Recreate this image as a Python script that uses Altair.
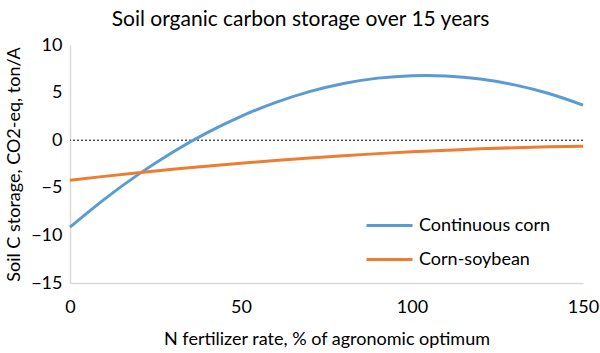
import altair as alt
import pandas as pd

x_vals = [0, 10, 20, 30, 40, 50, 60, 70, 80, 90, 100, 110, 120, 130, 140, 150]
continuous_corn = [-9.13, -6.21, -3.59, -1.26, 0.77, 2.51, 3.95, 5.10, 5.96, 6.52, 6.78, 6.75, 6.43, 5.81, 4.90, 3.69]
corn_soybean = [-4.21, -3.80, -3.42, -3.06, -2.73, -2.41, -2.13, -1.87, -1.63, -1.41, -1.22, -1.06, -0.91, -0.79, -0.70, -0.63]
series_names = ["Continuous corn", "Corn-soybean"]
series_colors = ["#5B9BD5", "#ED7D31"]
y_ticks = [-15, -10, -5, 0, 5, 10]
x_ticks = [0, 50, 100, 150]

rows = []
for name, vals in zip(series_names, [continuous_corn, corn_soybean]):
    for xv, yv in zip(x_vals, vals):
        rows.append({"N": xv, "C": yv, "Series": name})
df = pd.DataFrame(rows)

FONT = "Lato"
FS = 18

lines = alt.Chart(df).mark_line(strokeWidth=3, interpolate="natural").encode(
    x=alt.X("N:Q", scale=alt.Scale(domain=[0, 150], nice=False),
            axis=alt.Axis(values=x_ticks, title="N fertilizer rate, % of agronomic optimum",
                          grid=False, ticks=False, domainColor="#d9d9d9", domainWidth=1.5,
                          labelFontSize=FS, labelPadding=15, labelColor="#000", labelFlush=False,
                          titleFontSize=FS, titleFontWeight="normal", titleColor="#000",
                          titlePadding=14, labelFont=FONT, titleFont=FONT)),
    y=alt.Y("C:Q", scale=alt.Scale(domain=[-15, 10], nice=False),
            axis=alt.Axis(values=y_ticks, title="Soil C storage, CO2-eq, ton/A",
                          grid=False, ticks=False, domainColor="#d9d9d9", domainWidth=1.5,
                          labelFontSize=FS, labelPadding=8, labelColor="#000", labelFlush=False,
                          titleFontSize=FS, titleFontWeight="normal", titleColor="#000",
                          titlePadding=7, labelFont=FONT, titleFont=FONT)),
    color=alt.Color("Series:N", scale=alt.Scale(domain=series_names, range=series_colors),
                    legend=alt.Legend(title=None, orient="none", legendX=295, legendY=156,
                                      symbolType="stroke", symbolSize=2116, symbolStrokeWidth=3,
                                      labelFontSize=FS, labelFont=FONT, labelColor="#000",
                                      labelOffset=5, rowPadding=-26)),
)

zero = alt.Chart(pd.DataFrame({"y": [0]})).mark_rule(
    color="#000", strokeDash=[2, 2], strokeWidth=1
).encode(y="y:Q")

chart = alt.layer(zero, lines).properties(
    width=513, height=238,
    padding={"left": 70, "top": 45, "right": 17, "bottom": 70},
    autosize=alt.AutoSizeParams(type="none"),
    title=alt.TitleParams("Soil organic carbon storage over 15 years", fontSize=21,
                          fontWeight="normal", font=FONT, color="#000", dx=-26, offset=6),
).configure_view(stroke=None)

chart.save("out.html", embed_options={"renderer": "svg", "actions": False})
